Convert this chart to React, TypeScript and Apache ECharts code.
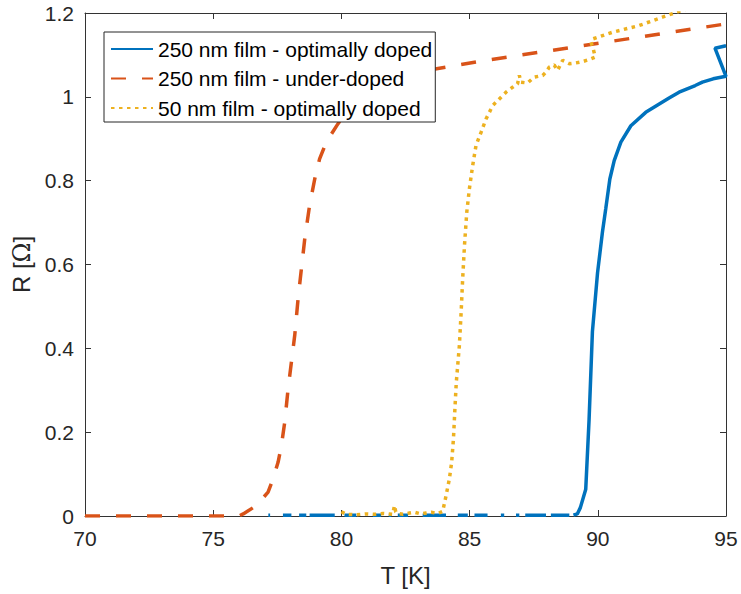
import React, { useEffect, useRef } from "react";
import * as echarts from "echarts";

const xTicks = { min: 70, max: 95, interval: 5 };
const yTicks = { min: 0, max: 1.2, interval: 0.2 };

const seriesNames = [
  "250 nm film - optimally doped",
  "250 nm film - under-doped",
  "50 nm film - optimally doped",
];

// 250 nm optimally doped: near-zero pieces (the trace is broken there), then the transition
const blueLowSegments: number[][][] = [
  [[77.15, 0.002], [77.22, 0.002]],
  [[77.72, 0.002], [78.05, 0.002]],
  [[78.35, 0.002], [78.63, 0.002]],
  [[78.76, 0.002], [79.74, 0.002]],
  [[80.12, 0.002], [80.58, 0.002]],
  [[81.23, 0.002], [81.55, 0.002]],
  [[81.85, 0.002], [81.95, 0.002]],
  [[82.2, 0.002], [82.6, 0.002]],
  [[83.17, 0.002], [84.08, 0.002]],
  [[84.54, 0.002], [84.93, 0.002]],
  [[85.19, 0.002], [85.7, 0.002]],
  [[86.22, 0.002], [86.35, 0.002]],
  [[86.81, 0.002], [86.94, 0.002]],
  [[87.17, 0.002], [87.98, 0.002]],
  [[88.17, 0.002], [88.89, 0.002]],
];
const blueRise: number[][] = [
  [89.05, 0.002], [89.2, 0.005], [89.32, 0.02], [89.53, 0.064], [89.66, 0.23],
  [89.79, 0.44], [89.99, 0.58], [90.18, 0.677], [90.31, 0.733], [90.47, 0.804],
  [90.64, 0.848], [90.9, 0.892], [91.29, 0.931], [91.87, 0.963], [92.78, 0.997],
  [93.17, 1.011], [93.8, 1.027], [94.08, 1.035], [94.5, 1.043], [95.0, 1.049],
  [94.57, 1.116], [95.0, 1.122],
];

// 250 nm under-doped
const orangeData: number[][] = [
  [70, 0.0], [76.0, 0.0], [76.17, 0.005], [76.69, 0.025], [77.14, 0.057],
  [77.33, 0.088], [77.53, 0.128], [77.66, 0.168], [77.79, 0.224], [77.92, 0.303],
  [78.18, 0.431], [78.31, 0.518], [78.44, 0.59], [78.57, 0.661], [78.76, 0.741],
  [78.96, 0.804], [79.15, 0.852], [79.41, 0.892], [79.87, 0.936], [80.3, 0.975],
  [80.8, 1.005], [81.5, 1.035], [82.5, 1.054], [84.08, 1.071], [85.64, 1.087],
  [95.0, 1.174],
];

// 50 nm optimally doped
const yellowData: number[][] = [
  [80.0, 0.01], [80.19, 0.004], [80.58, 0.003], [80.94, 0.005], [81.3, 0.004],
  [81.62, 0.006], [82.0, 0.004], [82.07, 0.025], [82.12, 0.01], [82.2, 0.006],
  [82.4, 0.004], [82.66, 0.007], [82.85, 0.009], [83.1, 0.005], [83.3, 0.007],
  [83.5, 0.009], [83.76, 0.006], [83.95, 0.011], [84.08, 0.048], [84.21, 0.088],
  [84.3, 0.128], [84.37, 0.184], [84.42, 0.247], [84.48, 0.318], [84.6, 0.406],
  [84.67, 0.486], [84.73, 0.566], [84.8, 0.645], [84.89, 0.725], [84.99, 0.78],
  [85.12, 0.836], [85.25, 0.884], [85.45, 0.916], [85.64, 0.947], [85.9, 0.979],
  [86.16, 0.995], [86.42, 1.011], [86.68, 1.023], [86.87, 1.031], [86.94, 1.051],
  [87.0, 1.035], [87.26, 1.033], [87.52, 1.047], [87.85, 1.051], [87.98, 1.059],
  [88.11, 1.071], [88.3, 1.076], [88.43, 1.063], [88.63, 1.087], [88.89, 1.079],
  [89.15, 1.081], [89.4, 1.084], [89.67, 1.089], [89.9, 1.095], [89.82, 1.115],
  [89.73, 1.131], [89.8, 1.138], [90.57, 1.154], [91.61, 1.17], [92.52, 1.19],
  [93.17, 1.204], [93.6, 1.212],
];

const colors = ["#0072BD", "#D95319", "#EDB120"];
const axisColor = "#333333";
const textColor = "#262626";
const font = "'Liberation Sans', Arial, Helvetica, sans-serif";

function buildBlue(): any[] {
  const out: any[] = [];
  blueLowSegments.forEach((seg) => {
    seg.forEach((p) => out.push(p));
    out.push([seg[seg.length - 1][0], "-"]);
  });
  blueRise.forEach((p) => out.push(p));
  return out;
}

export default function App() {
  const ref = useRef<HTMLDivElement>(null);
  useEffect(() => {
    if (!ref.current) return;
    const chart = echarts.init(ref.current, undefined, { renderer: "svg" });
    const axisCommon = {
      type: "value" as const,
      axisLine: { show: true, onZero: false, lineStyle: { color: axisColor, width: 1 } },
      axisTick: { show: true, inside: true, length: 6, lineStyle: { color: axisColor, width: 1 } },
      splitLine: { show: false },
    };
    chart.setOption({
      animation: false,
      backgroundColor: "#ffffff",
      grid: { left: 85, right: 15, top: 13, bottom: 78, containLabel: false },
      xAxis: [
        {
          ...axisCommon,
          ...xTicks,
          position: "bottom",
          name: "T [K]",
          nameLocation: "middle",
          nameGap: 47,
          nameTextStyle: { fontSize: 24, color: textColor, fontFamily: font },
          axisLabel: { fontSize: 21, color: textColor, fontFamily: font, margin: 12 },
        },
        {
          ...axisCommon,
          ...xTicks,
          position: "top",
          axisLabel: { show: false },
        },
      ],
      yAxis: [
        {
          ...axisCommon,
          ...yTicks,
          position: "left",
          name: "R [{o|Ω}]",
          nameLocation: "middle",
          nameGap: 46,
          nameRotate: 90,
          nameTextStyle: {
            fontSize: 24,
            color: textColor,
            fontFamily: font,
            rich: { o: { fontSize: 24, color: textColor, fontFamily: "'DejaVu Serif', serif" } },
          },
          axisLabel: { fontSize: 21, color: textColor, fontFamily: font, margin: 11 },
        },
        {
          ...axisCommon,
          ...yTicks,
          position: "right",
          axisLabel: { show: false },
        },
      ],
      legend: {
        show: true,
        orient: "vertical",
        left: 104,
        top: 32,
        padding: [5, 3, 2, 6],
        itemGap: 5.5,
        itemWidth: 42,
        itemHeight: 14,
        backgroundColor: "#ffffff",
        borderColor: "#262626",
        borderWidth: 1,
        borderRadius: 0,
        itemStyle: { color: "rgba(0,0,0,0)", borderWidth: 0, opacity: 0 },
        textStyle: { fontSize: 21, color: "#000000", fontFamily: font, lineHeight: 24 },
        data: seriesNames,
      },
      series: [
        {
          name: seriesNames[0],
          type: "line",
          data: buildBlue(),
          symbol: "none",
          showSymbol: false,
          connectNulls: false,
          clip: true,
          lineStyle: { color: colors[0], width: 3.5 },
          itemStyle: { color: colors[0] },
          z: 3,
        },
        {
          name: seriesNames[1],
          type: "line",
          data: orangeData,
          symbol: "none",
          showSymbol: false,
          clip: true,
          lineStyle: { color: colors[1], width: 3.5, type: [15, 16], cap: "butt" },
          itemStyle: { color: colors[1] },
          z: 2,
        },
        {
          name: seriesNames[2],
          type: "line",
          data: yellowData,
          symbol: "none",
          showSymbol: false,
          clip: true,
          lineStyle: { color: colors[2], width: 3.5, type: [3.5, 4.5], cap: "butt" },
          itemStyle: { color: colors[2] },
          z: 4,
        },
      ],
    });
    return () => chart.dispose();
  }, []);
  return (
    <div
      ref={ref}
      style={{ position: "fixed", left: 0, top: 0, width: 741, height: 594, background: "#fff" }}
    />
  );
}
